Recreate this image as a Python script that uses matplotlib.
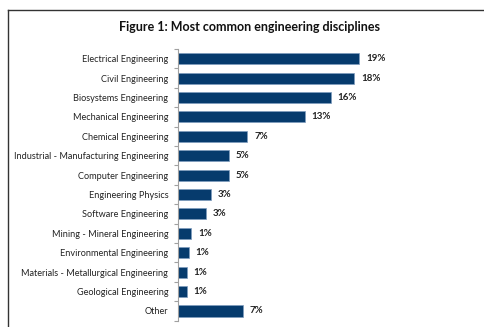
import matplotlib
matplotlib.use("Agg")
import matplotlib.pyplot as plt
from matplotlib.lines import Line2D

# Share of respondents by engineering discipline (%)
disciplines = [
    "Electrical Engineering",
    "Civil Engineering",
    "Biosystems Engineering",
    "Mechanical Engineering",
    "Chemical Engineering",
    "Industrial - Manufacturing Engineering",
    "Computer Engineering",
    "Engineering Physics",
    "Software Engineering",
    "Mining - Mineral Engineering",
    "Environmental Engineering",
    "Materials - Metallurgical Engineering",
    "Geological Engineering",
    "Other",
]
shares = [18.85, 18.33, 15.9, 13.2, 7.2, 5.3, 5.3, 3.4, 2.85, 1.35, 1.1, 0.9, 0.9, 6.7]

title = "Figure 1: Most common engineering disciplines"

plt.rcParams["font.family"] = ["Lato", "DejaVu Sans"]

W, H = 485, 327
fig = plt.figure(figsize=(W / 100, H / 100), dpi=100)
fig.patch.set_facecolor("white")

# plot area in pixels
left_px, top_px, bottom_px = 178.3, 49.0, 320.7
px_per_unit = 9.6
xmax = 30
ax = fig.add_axes([left_px / W, 1 - bottom_px / H,
                   xmax * px_per_unit / W, (bottom_px - top_px) / H])

ypos = list(range(len(disciplines)))
ax.barh(ypos, shares, height=0.57, color="#063b6d",
        edgecolor="#7f9cbf", linewidth=0.5)

ax.set_xlim(0, xmax)
ax.set_ylim(len(disciplines) - 0.5, -0.5)
ax.set_yticks(ypos)
ax.set_yticklabels(disciplines, fontsize=6.6, color="#222222")
ax.set_xticks([])

# boundary ticks between categories
ax.set_yticks([i - 0.5 for i in range(len(disciplines) + 1)], minor=True)
ax.tick_params(axis="y", which="major", length=0, pad=7.2)
ax.tick_params(axis="y", which="minor", length=3, color="#a0a0a0", width=0.8)

for side in ("top", "right", "bottom"):
    ax.spines[side].set_visible(False)
ax.spines["left"].set_color("#a0a0a0")
ax.spines["left"].set_linewidth(0.8)

for y, v in zip(ypos, shares):
    ax.text(v + 0.7, y, f"{round(v):d}%", va="center", ha="left",
            fontsize=7, fontweight="bold", color="#222222")

fig.text(249.5 / W, 1 - 27 / H, title, ha="center", va="center",
         fontsize=9.0, fontweight="bold", color="#111111")

# open frame around the chart
fig.add_artist(Line2D([8 / W, 8 / W], [0, 1 - 9.5 / H],
                      transform=fig.transFigure, color="#333333", linewidth=1))
fig.add_artist(Line2D([8 / W, 484 / W], [1 - 9.5 / H, 1 - 9.5 / H],
                      transform=fig.transFigure, color="#333333", linewidth=1))

fig.savefig("out.png", dpi=100)
